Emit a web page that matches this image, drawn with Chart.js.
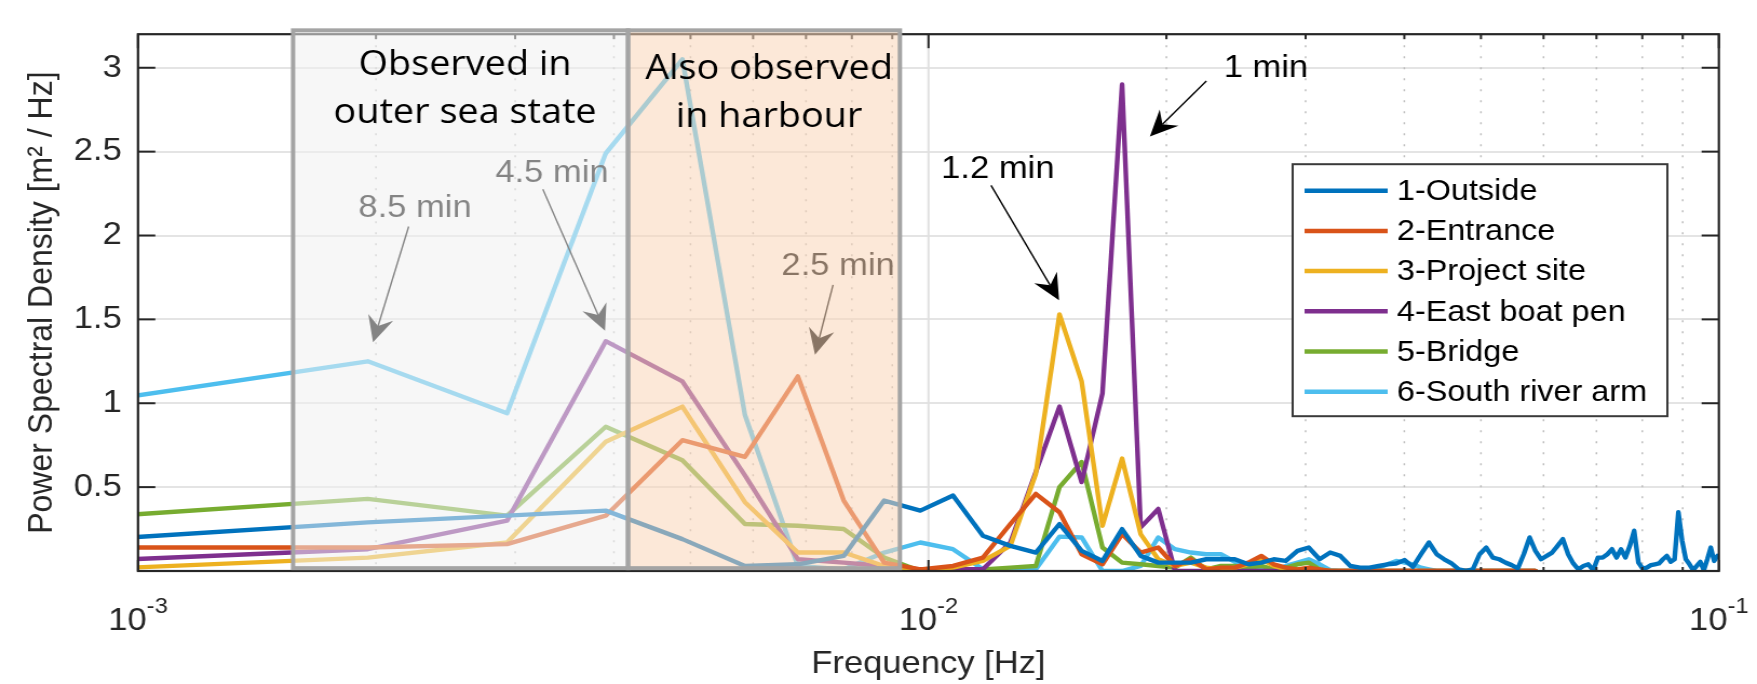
<!DOCTYPE html>
<html>
<head>
<meta charset="utf-8">
<script src="https://cdn.jsdelivr.net/npm/chart.js@4.4.1/dist/chart.umd.min.js"></script>
<style>
  html, body { margin: 0; padding: 0; background: #fff; }
  canvas { display: block; }
</style>
</head>
<body>
<!-- the reference is a little wider than tall text would be, so the canvas is stretched by css -->
<canvas id="psd" width="1627" height="684" style="width:1757px;height:684px"></canvas>
<script>
// frequency bins [Hz]
const freq = [
  0.000977, 0.001953, 0.002930, 0.003906, 0.004883, 0.005859, 0.006836, 0.007813, 0.008789, 0.009766,
  0.010742, 0.011719, 0.012695, 0.013672, 0.014648, 0.015625, 0.016602, 0.017578, 0.018555, 0.019531,
  0.020508, 0.021484, 0.022461, 0.023438, 0.024414, 0.025391, 0.026367, 0.027344, 0.028320, 0.029297,
  0.030273, 0.031250, 0.032227, 0.033203, 0.034180, 0.035156, 0.036133, 0.037109, 0.038086, 0.039063,
  0.040039, 0.041016, 0.041992, 0.042969, 0.043945, 0.044922, 0.045898, 0.046875, 0.047852, 0.048828,
  0.049805, 0.050781, 0.051758, 0.052734, 0.053711, 0.054688, 0.055664, 0.056641, 0.057617, 0.058594,
  0.059570, 0.060547, 0.061523, 0.062500, 0.063477, 0.064453, 0.065430, 0.066406, 0.067383, 0.068359,
  0.069336, 0.070313, 0.071289, 0.072266, 0.073242, 0.074219, 0.075195, 0.076172, 0.077148, 0.078125,
  0.079102, 0.080078, 0.081055, 0.082031, 0.083008, 0.083984, 0.084961, 0.085938, 0.086914, 0.087891,
  0.088867, 0.089844, 0.090820, 0.091797, 0.092773, 0.093750, 0.094727, 0.095703, 0.096680, 0.097656,
  0.098633, 0.099609
];

// PSD [m^2/Hz] per station
const psdOutside = [
  0.20, 0.29, 0.33, 0.36, 0.19, 0.03, 0.04, 0.09, 0.42, 0.36,
  0.45, 0.21, 0.15, 0.11, 0.28, 0.12, 0.06, 0.25, 0.09, 0.05,
  0.05, 0.05, 0.07, 0.07, 0.07, 0.04, 0.05, 0.07, 0.06, 0.12,
  0.14, 0.07, 0.11, 0.09, 0.03, 0.02, 0.02, 0.03, 0.04, 0.045,
  0.065, 0.025, 0.10, 0.17, 0.10, 0.07, 0.045, 0.01, 0.0, 0.01,
  0.10, 0.14, 0.08, 0.07, 0.05, 0.035, 0.015, 0.10, 0.20, 0.12,
  0.07, 0.09, 0.11, 0.15, 0.19, 0.10, 0.045, 0.01, 0.03, 0.04,
  0.005, 0.08, 0.08, 0.10, 0.13, 0.08, 0.13, 0.08, 0.15, 0.24,
  0.05, 0.015, 0.02, 0.035, 0.04, 0.045, 0.07, 0.09, 0.055, 0.07,
  0.35, 0.18, 0.07, 0.04, 0.005, 0.03, 0.055, 0.005, 0.07, 0.14,
  0.06, 0.09
];
const psdEntrance = [
  0.14, 0.14, 0.16, 0.33, 0.78, 0.68, 1.16, 0.42, 0.05, 0.01,
  0.03, 0.08, 0.28, 0.46, 0.35, 0.10, 0.04, 0.22, 0.11, 0.14,
  0.03, 0.07, 0.01, 0.02, 0.02, 0.05, 0.09, 0.04, 0.02, 0.01,
  0.02, 0.01, 0, 0, 0, 0, 0, 0, 0, 0,
  0, 0, 0, 0, 0, 0, 0, 0, 0, 0,
  0, 0, 0, 0, 0, 0, 0, 0, 0, 0
];
const psdProjectSite = [
  0.02, 0.08, 0.17, 0.77, 0.98, 0.41, 0.11, 0.11, 0.03, 0.0,
  0.02, 0.06, 0.15, 0.58, 1.53, 1.13, 0.27, 0.67, 0.22, 0.07,
  0.03, 0.05, 0.02, 0.01, 0.02, 0.04, 0.07, 0.03, 0.01, 0.01,
  0, 0, 0, 0, 0, 0, 0, 0, 0, 0,
  0, 0, 0, 0, 0, 0, 0, 0, 0, 0,
  0, 0, 0, 0, 0, 0, 0, 0, 0, 0
];
const psdBoatPen = [
  0.07, 0.13, 0.30, 1.37, 1.13, 0.57, 0.07, 0.05, 0.03, 0.01,
  0.01, 0.01, 0.17, 0.59, 0.98, 0.53, 1.06, 2.90, 0.26, 0.37,
  0, 0, 0, 0, 0, 0, 0, 0, 0, 0,
  0, 0, 0, 0, 0, 0, 0, 0, 0, 0,
  0, 0, 0, 0, 0, 0, 0, 0, 0, 0,
  0, 0, 0, 0, 0, 0, 0, 0, 0, 0
];
const psdBridge = [
  0.335, 0.43, 0.33, 0.86, 0.66, 0.28, 0.27, 0.25, 0.08, 0.0,
  0.0, 0.01, 0.02, 0.03, 0.50, 0.65, 0.14, 0.05, 0.04, 0.03,
  0.02, 0.08, 0.01, 0.03, 0.03, 0.02, 0.03, 0.01, 0.02, 0.04,
  0.05, 0.01, 0, 0, 0, 0, 0, 0, 0, 0,
  0, 0, 0, 0, 0, 0, 0, 0, 0, 0,
  0, 0, 0, 0, 0, 0, 0, 0, 0, 0
];
const psdRiverArm = [
  1.04, 1.25, 0.94, 2.49, 3.05, 0.93, 0.03, 0.01, 0.11, 0.17,
  0.13, 0.01, 0.0, 0.01, 0.205, 0.20, 0.0, 0.0, 0.03, 0.20,
  0.13, 0.11, 0.10, 0.10, 0.055, 0.01, 0.005, 0.005, 0.03, 0.05,
  0.07, 0.04, 0.005, 0, 0, 0, 0, 0.02, 0.04, 0.06,
  0.05, 0.04, 0.02, 0.01, 0, 0, 0, 0, 0, 0,
  0, 0, 0, 0, 0, 0, 0, 0, 0, 0
];

const stationNames = ['1-Outside', '2-Entrance', '3-Project site', '4-East boat pen', '5-Bridge', '6-South river arm'];
const stationColors = ['#0072BD', '#D95319', '#EDB120', '#7E2F8E', '#77AC30', '#4DBEEE'];
const series = [psdOutside, psdEntrance, psdProjectSite, psdBoatPen, psdBridge, psdRiverArm];

// axis ticks
const yTicks = [0.5, 1, 1.5, 2, 2.5, 3];
const xDecades = [0.001, 0.01, 0.1];
const xExponents = ['-3', '-2', '-1'];

// period annotations: label centre, arrow tail, arrow tip (freq, psd)
const notes = [
  { text: '8.5 min', at: [0.002241, 2.162], tail: [0.002200, 2.054], tip: [0.001983, 1.363] },
  { text: '4.5 min', at: [0.003340, 2.373], tail: [0.003252, 2.276], tip: [0.003898, 1.432] },
  { text: '2.5 min', at: [0.007686, 1.820], tail: [0.007574, 1.706], tip: [0.007185, 1.289] },
  { text: '1.2 min', at: [0.01224, 2.396], tail: [0.01200, 2.299], tip: [0.01463, 1.614] },
  { text: '1 min', at: [0.02673, 2.997], tail: [0.02247, 2.921], tip: [0.01906, 2.590] }
];

// shaded frequency bands
const bands = [
  { from: 0.001571, to: 0.004168, fill: 'rgba(240,240,240,0.55)', lines: ['Observed in', 'outer sea state'], textX: 0.002593, rows: [2.955, 2.670] },
  { from: 0.004168, to: 0.009202, fill: 'rgba(249,213,184,0.55)', lines: ['Also observed', 'in harbour'], textX: 0.006285, rows: [2.932, 2.647] }
];
const bandTop = 3.223;
const bandBottom = 0.017;

const ink = '#262626';
const sans = '"Liberation Sans", Arial, sans-serif';

function toPx(chart, p) {
  return [chart.scales.x.getPixelForValue(p[0]), chart.scales.y.getPixelForValue(p[1])];
}

function seg(ctx, x0, y0, x1, y1) {
  ctx.beginPath();
  ctx.moveTo(x0, y0);
  ctx.lineTo(x1, y1);
  ctx.stroke();
}

function drawArrow(ctx, tail, tip) {
  const dx = tip[0] - tail[0], dy = tip[1] - tail[1];
  const len = Math.hypot(dx, dy);
  const ux = dx / len, uy = dy / len;
  const nx = -uy, ny = ux;
  const L = 26, hw = 12, notch = 9;
  const bx = tip[0] - ux * L, by = tip[1] - uy * L;
  const mx = tip[0] - ux * (L - notch), my = tip[1] - uy * (L - notch);
  ctx.strokeStyle = '#000';
  ctx.lineWidth = 1.4;
  seg(ctx, tail[0], tail[1], mx, my);
  ctx.beginPath();
  ctx.moveTo(tip[0], tip[1]);
  ctx.lineTo(bx + nx * hw, by + ny * hw);
  ctx.lineTo(mx, my);
  ctx.lineTo(bx - nx * hw, by - ny * hw);
  ctx.closePath();
  ctx.fillStyle = '#000';
  ctx.fill();
}

const decorations = {
  id: 'decorations',
  beforeDatasetsDraw(chart) {
    const { ctx, chartArea: a, scales: { x } } = chart;
    ctx.save();
    // dotted minor grid
    ctx.strokeStyle = '#bdbdbd';
    ctx.lineWidth = 1.5;
    ctx.setLineDash([2, 9]);
    for (const d of [0.001, 0.01]) {
      for (let k = 2; k <= 9; k++) {
        const p = x.getPixelForValue(k * d);
        seg(ctx, p, a.top, p, a.bottom);
      }
    }
    ctx.setLineDash([]);
    ctx.strokeStyle = '#e0e0e0';
    ctx.lineWidth = 2;
    const p = x.getPixelForValue(0.01);
    seg(ctx, p, a.top, p, a.bottom);
    ctx.restore();
  },
  afterDatasetsDraw(chart) {
    const { ctx, chartArea: a, scales: { x, y } } = chart;
    ctx.save();

    // annotations
    ctx.font = '32px ' + sans;
    ctx.textAlign = 'center';
    ctx.textBaseline = 'middle';
    notes.forEach(n => {
      drawArrow(ctx, toPx(chart, n.tail), toPx(chart, n.tip));
      const t = toPx(chart, n.at);
      ctx.fillStyle = '#000';
      ctx.fillText(n.text, t[0], t[1]);
    });

    // axes box with inward ticks
    ctx.strokeStyle = ink;
    ctx.lineWidth = 2.2;
    ctx.strokeRect(a.left, a.top, a.right - a.left, a.bottom - a.top);
    ctx.lineWidth = 2;
    yTicks.forEach(v => {
      const py = y.getPixelForValue(v);
      seg(ctx, a.left, py, a.left + 16, py);
      seg(ctx, a.right - 16, py, a.right, py);
    });
    xDecades.forEach(d => {
      for (let k = 1; k <= 9; k++) {
        const v = k * d;
        if (v > 0.1 + 1e-9) break;
        const px = x.getPixelForValue(v);
        const major = k === 1;
        seg(ctx, px, a.bottom, px, a.bottom - (major ? 11 : 4));
        seg(ctx, px, a.top, px, a.top + (major ? 14 : 5));
      }
    });

    // shaded bands over the data
    bands.forEach(b => {
      const l = x.getPixelForValue(b.from), r = x.getPixelForValue(b.to);
      const t = y.getPixelForValue(bandTop), btm = y.getPixelForValue(bandBottom);
      ctx.fillStyle = b.fill;
      ctx.fillRect(l, t, r - l, btm - t);
    });
    bands.forEach(b => {
      const l = x.getPixelForValue(b.from), r = x.getPixelForValue(b.to);
      const t = y.getPixelForValue(bandTop), btm = y.getPixelForValue(bandBottom);
      ctx.strokeStyle = '#a4a4a4';
      ctx.lineWidth = 4;
      ctx.strokeRect(l, t, r - l, btm - t);
      ctx.fillStyle = '#000';
      ctx.font = '35px "Open Sans", sans-serif';
      ctx.textAlign = 'center';
      ctx.textBaseline = 'alphabetic';
      const cx = x.getPixelForValue(b.textX);
      b.lines.forEach((s, i) => ctx.fillText(s, cx, y.getPixelForValue(b.rows[i])));
    });
    ctx.restore();
  },
  afterDraw(chart) {
    const { ctx, chartArea: a, scales: { x } } = chart;
    ctx.save();

    // x tick labels 10^n
    ctx.fillStyle = ink;
    ctx.textBaseline = 'alphabetic';
    ctx.textAlign = 'left';
    xDecades.forEach((d, i) => {
      const px = x.getPixelForValue(d);
      ctx.font = '32px ' + sans;
      const w1 = ctx.measureText('10').width;
      ctx.font = '22px ' + sans;
      const w2 = ctx.measureText(xExponents[i]).width;
      const x0 = px - (w1 + w2) / 2;
      ctx.font = '32px ' + sans;
      ctx.fillText('10', x0, a.bottom + 59);
      ctx.font = '22px ' + sans;
      ctx.fillText(xExponents[i], x0 + w1, a.bottom + 42);
    });

    // legend
    const L = a.right - 394.7, R = a.right - 47.7, T = a.top + 130, B = a.top + 382;
    ctx.fillStyle = '#fff';
    ctx.fillRect(L, T, R - L, B - T);
    ctx.strokeStyle = '#3a3a3a';
    ctx.lineWidth = 2;
    ctx.strokeRect(L, T, R - L, B - T);
    ctx.font = '30px ' + sans;
    ctx.textBaseline = 'middle';
    chart.data.datasets.forEach((ds, i) => {
      const cy = a.top + 156.5 + i * 40.2;
      ctx.strokeStyle = ds.borderColor;
      ctx.lineWidth = 4.5;
      seg(ctx, L + 11, cy, L + 88, cy);
      ctx.fillStyle = '#000';
      ctx.fillText(ds.label, L + 96.5, cy + 1);
    });
    ctx.restore();
  }
};

Chart.defaults.font.family = sans;
Chart.defaults.color = ink;

new Chart(document.getElementById('psd'), {
  type: 'line',
  data: {
    datasets: stationNames.map((name, i) => ({
      label: name,
      data: series[i].map((v, j) => ({ x: freq[j], y: v })),
      borderColor: stationColors[i],
      backgroundColor: stationColors[i],
      borderWidth: 4.4,
      borderJoinStyle: 'round',
      borderCapStyle: 'round',
      pointRadius: 0,
      tension: 0,
      clip: 0
    }))
  },
  options: {
    responsive: false,
    devicePixelRatio: 1,
    animation: false,
    layout: { padding: { left: 0, top: 10, right: 35.3, bottom: 0 } },
    plugins: {
      legend: { display: false },
      tooltip: { enabled: false }
    },
    scales: {
      x: {
        type: 'logarithmic',
        min: 0.001,
        max: 0.1,
        grid: { display: false },
        border: { display: false },
        ticks: { display: false },
        title: {
          display: true,
          text: 'Frequency [Hz]',
          color: ink,
          font: { size: 32 },
          padding: { top: 0, bottom: 1 }
        },
        afterFit(scale) { scale.height = 113; }
      },
      y: {
        min: 0,
        max: 3.2,
        afterBuildTicks(scale) { scale.ticks = yTicks.map(v => ({ value: v })); },
        ticks: {
          color: ink,
          font: { size: 32 },
          padding: 15,
          callback: v => String(v)
        },
        grid: { color: '#e4e4e4', lineWidth: 2, drawTicks: false },
        border: { display: false },
        title: {
          display: true,
          text: 'Power Spectral Density [m² / Hz]',
          color: ink,
          font: { size: 32 },
          padding: { top: 20, bottom: 0 }
        },
        afterFit(scale) { scale.width = 127.8; }
      }
    }
  },
  plugins: [decorations]
});
</script>
</body>
</html>
